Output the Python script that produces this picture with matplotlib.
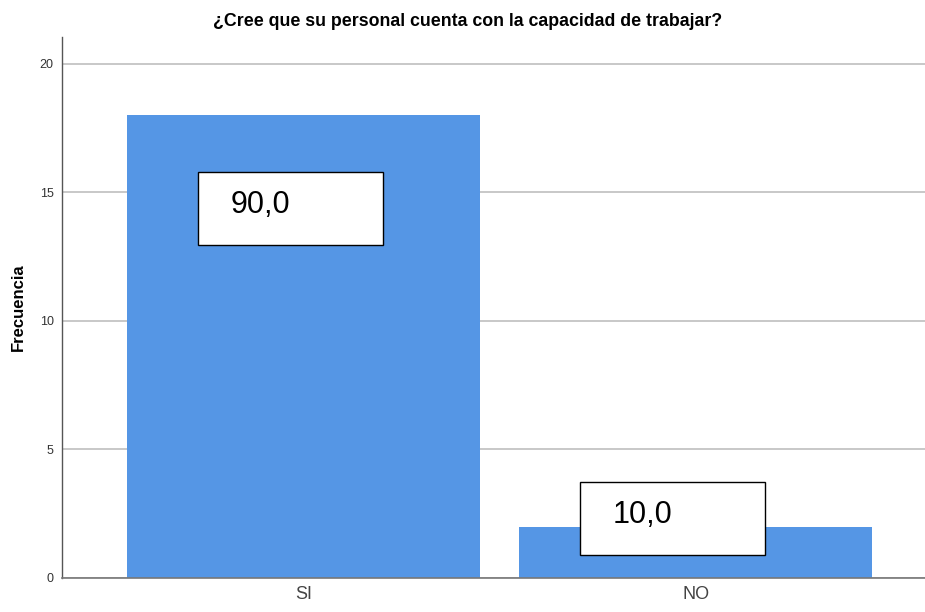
import matplotlib
matplotlib.use("Agg")
import matplotlib.pyplot as plt
from matplotlib.patches import Rectangle

categories = ["SI", "NO"]
counts = [18, 2]
title = "¿Cree que su personal cuenta con la capacidad de trabajar?"
y_label = "Frecuencia"
y_ticks = [0, 5, 10, 15, 20]

total = sum(counts)
percents = [c / total * 100 for c in counts]

plt.rcParams["font.family"] = ["Liberation Sans", "DejaVu Sans"]

fig = plt.figure(figsize=(9.25, 6.12), dpi=100)
ax = fig.add_axes([62 / 925, 34 / 612, 863 / 925, 541 / 612])

bar_color = "#5596E5"
x = list(range(len(categories)))
ax.bar(x, counts, width=0.9, color=bar_color, zorder=2)

ax.set_xlim(-0.617, 1.585)
ax.set_ylim(0, 21.05)
ax.set_yticks(y_ticks)
ax.set_yticklabels([str(t) for t in y_ticks], fontsize=9, color="#333333")
ax.set_xticks(x)
ax.set_xticklabels(categories, fontsize=13, color="#444444")
ax.tick_params(axis="both", length=0)
ax.tick_params(axis="y", pad=6)
ax.tick_params(axis="x", pad=6)

ax.yaxis.grid(True, color="#C8C8C8", linewidth=1.4, zorder=0)
ax.set_axisbelow(True)
for side in ("top", "right"):
    ax.spines[side].set_visible(False)
ax.spines["left"].set_color("#555555")
ax.spines["bottom"].set_color("#777777")
ax.spines["left"].set_linewidth(1.0)
ax.spines["bottom"].set_linewidth(1.2)

ax.set_ylabel(y_label, fontsize=12, fontweight="bold", labelpad=10)

# value boxes: (left offset from bar centre, top of box) in data units
box_left = [-0.270, -0.296]
box_top = [15.8, 3.74]
box_w, box_h = 0.472, 2.84
for xi, pct, dx, top in zip(x, percents, box_left, box_top):
    rect = Rectangle((xi + dx, top - box_h), box_w, box_h, facecolor="white",
                     edgecolor="black", linewidth=1.0, zorder=3)
    ax.add_patch(rect)
    ax.text(xi + dx + 0.083, top - 1.28, f"{pct:.1f}".replace(".", ","),
            fontsize=22, ha="left", va="center", zorder=4, color="black")

fig.text(468 / 925, 1 - 22 / 612, title, ha="center", va="center",
         fontsize=12.8, fontweight="bold")

fig.savefig("out.png", dpi=100)
